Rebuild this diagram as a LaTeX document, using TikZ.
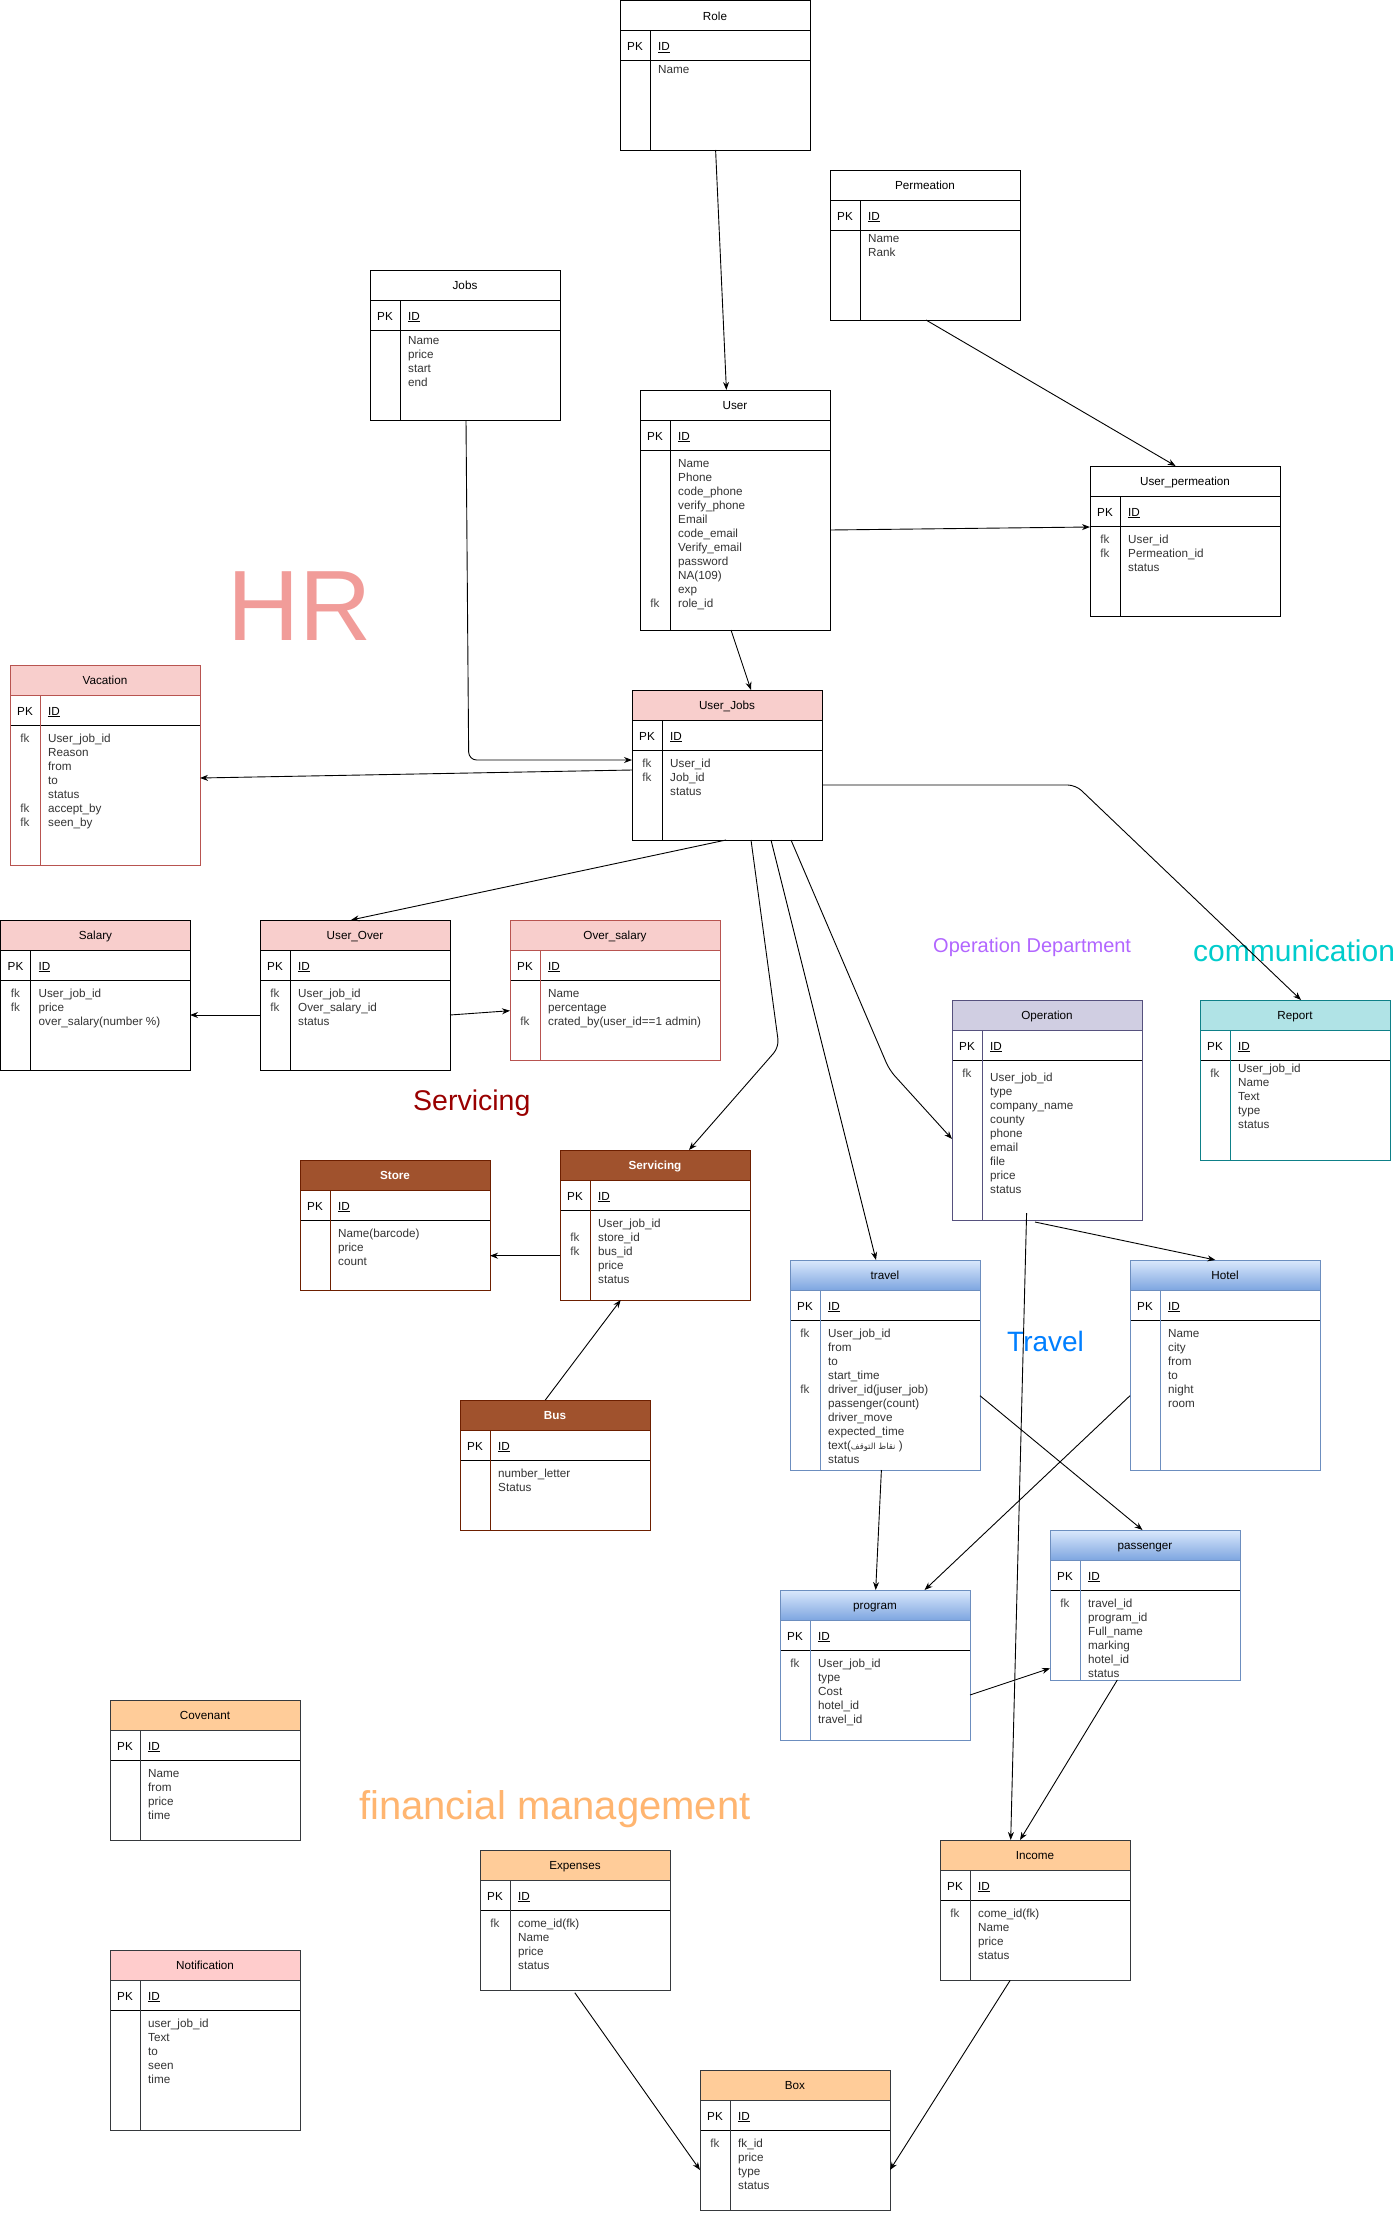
\documentclass[tikz,border=0pt]{standalone}
\usepackage{fontspec}
\setmainfont{Liberation Sans}
\newfontfamily\arabicfont[Script=Arabic]{DejaVu Sans}
\TeXXeTstate=1
\usetikzlibrary{calc,arrows.meta}
\definecolor{hdrPink}{HTML}{F8CECC}
\definecolor{strRed}{HTML}{B85450}
\definecolor{hdrLav}{HTML}{D0CEE2}
\definecolor{strLav}{HTML}{56517E}
\definecolor{hdrTeal}{HTML}{B0E3E6}
\definecolor{strTeal}{HTML}{0E8088}
\definecolor{hdrBrown}{HTML}{A0522D}
\definecolor{strBrown}{HTML}{6D1F00}
\definecolor{gTop}{HTML}{DAE8FC}
\definecolor{gBot}{HTML}{7EA6E0}
\definecolor{strBlue}{HTML}{6C8EBF}
\definecolor{hdrOrange}{HTML}{FFCC99}
\definecolor{strDark}{HTML}{36393D}
\definecolor{hdrRose}{HTML}{FFCCCC}
\definecolor{hrCol}{HTML}{F19C99}
\definecolor{opCol}{HTML}{B266FF}
\definecolor{comCol}{HTML}{00CCCC}
\definecolor{servCol}{HTML}{990000}
\definecolor{travCol}{HTML}{007FFF}
\definecolor{finCol}{HTML}{FFB570}
\definecolor{fkCol}{HTML}{444444}
\definecolor{bodyCol}{HTML}{333333}
\newcommand\ertrows[1]{\begin{tabular}{@{}l@{}}#1\end{tabular}}
\newcommand\erfkcol[1]{\begin{tabular}{@{}c@{}}#1\end{tabular}}
\tikzset{
  tabline/.style={line width=1pt},
  titlefont/.style={inner sep=0pt, font=\fontsize{11.7}{14}\selectfont},
  pkfont/.style={inner sep=0pt, font=\fontsize{11.7}{14}\selectfont},
  bodyfont/.style={inner sep=0pt, text=bodyCol, font=\fontsize{11.7}{14}\selectfont},
  fkfont/.style={inner sep=0pt, text=fkCol, font=\fontsize{11.7}{14}\selectfont},
  conn/.style={draw, line width=0.9pt, rounded corners=8pt, -{Stealth[length=8pt,width=6pt]}},
  biglabel/.style={inner sep=0pt, anchor=base west}
}
% #1 name, #2 x, #3 y, #4 w, #5 h, #6 stroke, #7 header fill options, #8 title
\newcommand\ertab[8]{%
  \fill[white] (#2,#3) rectangle ++(#4,#5);
  \path[#7] (#2,#3) rectangle ++(#4,30);
  \draw[tabline,black] (#2,#3+60) -- ++(#4,0);
  \draw[tabline,#6] (#2,#3+30) -- ++(#4,0);
  \draw[tabline,#6] (#2+30,#3+30) -- (#2+30,#3+#5);
  \node[draw=#6, tabline, inner sep=0pt, outer sep=0pt, minimum width=#4pt, minimum height=#5pt, anchor=north west] (#1) at (#2,#3) {};
  \node[titlefont, anchor=base] at (#2+#4/2,#3+19.8) {#8};
  \node[pkfont, anchor=base] at (#2+15,#3+50) {PK};
  \node[pkfont, anchor=base west] at (#2+38,#3+50) {\underline{ID}};
}
% #1 name, #2 text top offset, #3 fk top offset, #4 fk column, #5 rows
\newcommand\erbody[5]{%
  \node[bodyfont, anchor=north west] at ($(#1.north west)+(38,60+#2)$) {\ertrows{#5}};
  \node[fkfont, anchor=north] at ($(#1.north west)+(15,60+#3)$) {\erfkcol{#4}};
}
\begin{document}
\begin{tikzpicture}[x=1pt,y=-1pt]
\useasboundingbox (0,0) rectangle (1397,2214);
\fill[white] (0,0) rectangle (1397,2214);

% ---------- big labels ----------
\node[biglabel, text=hrCol, font=\fontsize{100}{110}\selectfont] (hrlab) at (227,640) {HR};
\node[biglabel, text=opCol, font=\fontsize{20}{24}\selectfont] (oplab) at (933,952.7) {Operation Department};
\node[biglabel, text=comCol, font=\fontsize{30}{36}\selectfont] (comlab) at (1193,961) {communication};
\node[biglabel, text=servCol, font=\fontsize{28.5}{34}\selectfont] (servlab) at (413,1110.7) {Servicing};
\node[biglabel, text=travCol, font=\fontsize{28}{34}\selectfont] (travlab) at (1007,1351) {Travel};
\node[biglabel, text=finCol, font=\fontsize{40}{48}\selectfont] (finlab) at (359,1819.3) {financial management};

% ---------- tables ----------
\ertab{role}{620}{0.5}{190}{150}{black}{fill=white}{Role}
\erbody{role}{2.5}{2.5}{}{Name}

\ertab{perm}{830}{170}{190}{150}{black}{fill=white}{Permeation}
\erbody{perm}{2.8}{2.8}{}{Name\\Rank}

\ertab{jobs}{370}{270}{190}{150}{black}{fill=white}{Jobs}
\erbody{jobs}{4.2}{4.2}{}{Name\\price\\start\\end}

\ertab{user}{640}{390}{190}{240}{black}{fill=white}{User}
\erbody{user}{7.5}{7.5}{\\ \\ \\ \\ \\ \\ \\ \\ \\ \\ fk}{Name\\Phone\\code\_phone\\verify\_phone\\Email\\code\_email\\Verify\_email\\password\\NA(109)\\exp\\role\_id}

\ertab{uperm}{1090}{466}{190}{150}{black}{fill=white}{User\_permeation}
\erbody{uperm}{7.8}{7.8}{fk\\ fk}{User\_id\\Permeation\_id\\status}

\ertab{vac}{10}{665}{190}{200}{strRed}{fill=hdrPink}{Vacation}
\erbody{vac}{7.5}{7.5}{fk\\ \\ \\ \\ \\ fk\\ fk}{User\_job\_id\\Reason\\from\\to\\status\\accept\_by\\seen\_by}

\ertab{uj}{632}{690}{190}{150}{black}{fill=hdrPink}{User\_Jobs}
\erbody{uj}{7.5}{7.5}{fk\\ fk}{User\_id\\Job\_id\\status}

\ertab{salary}{0.5}{920}{190}{150}{black}{fill=hdrPink}{Salary}
\erbody{salary}{7.5}{7.5}{fk\\ fk}{User\_job\_id\\price\\over\_salary(number \%)}

\ertab{uover}{260}{920}{190}{150}{black}{fill=hdrPink}{User\_Over}
\erbody{uover}{7.5}{7.5}{fk\\ fk}{User\_job\_id\\Over\_salary\_id\\status}

\ertab{osal}{510}{920}{210}{140}{strRed}{fill=hdrPink}{Over\_salary}
\erbody{osal}{7.5}{7.5}{\\ \\ fk}{Name\\percentage\\crated\_by(user\_id==1 admin)}

\ertab{oper}{952}{1000}{190}{220}{strLav}{fill=hdrLav}{Operation}
\erbody{oper}{11.5}{7.8}{fk}{User\_job\_id\\type\\company\_name\\county\\phone\\email\\file\\price\\status}

\ertab{report}{1200}{1000}{190}{160}{strTeal}{fill=hdrTeal}{Report}
\erbody{report}{2.8}{7.8}{fk}{User\_job\_id\\Name\\Text\\type\\status}

\ertab{store}{300}{1160}{190}{130}{strBrown}{fill=hdrBrown}{\textbf{\textcolor{white}{Store}}}
\erbody{store}{7.5}{7.5}{}{Name(barcode)\\price\\count}

\ertab{serv}{560}{1150}{190}{150}{strBrown}{fill=hdrBrown}{\textbf{\textcolor{white}{Servicing}}}
\erbody{serv}{7.5}{7.5}{\\ fk\\ fk}{User\_job\_id\\store\_id\\bus\_id\\price\\status}

\ertab{bus}{460}{1400}{190}{130}{strBrown}{fill=hdrBrown}{\textbf{\textcolor{white}{Bus}}}
\erbody{bus}{7.5}{7.5}{}{number\_letter\\Status}

\ertab{travel}{790}{1260}{190}{210}{strBlue}{top color=gTop, bottom color=gBot}{travel}
\erbody{travel}{7.5}{7.5}{fk\\ \\ \\ \\ fk}{User\_job\_id\\from\\to\\start\_time\\driver\_id(juser\_job)\\passenger(count)\\driver\_move\\expected\_time\\text({\fontsize{8.5}{14}\arabicfont\beginR نقاط التوقف\endR}\ )\\status}

\ertab{hotel}{1130}{1260}{190}{210}{strBlue}{top color=gTop, bottom color=gBot}{Hotel}
\erbody{hotel}{7.5}{7.5}{}{Name\\city\\from\\to\\night\\room}

\ertab{pass}{1050}{1530}{190}{150}{strBlue}{top color=gTop, bottom color=gBot}{passenger}
\erbody{pass}{7.5}{7.5}{fk}{travel\_id\\program\_id\\Full\_name\\marking\\hotel\_id\\status}

\ertab{prog}{780}{1590}{190}{150}{strBlue}{top color=gTop, bottom color=gBot}{program}
\erbody{prog}{7.5}{7.5}{fk}{User\_job\_id\\type\\Cost\\hotel\_id\\travel\_id}

\ertab{cov}{110}{1700}{190}{140}{strDark}{fill=hdrOrange}{Covenant}
\erbody{cov}{7.5}{7.5}{}{Name\\from\\price\\time}

\ertab{notif}{110}{1950}{190}{180}{strDark}{fill=hdrRose}{Notification}
\erbody{notif}{7.5}{7.5}{}{user\_job\_id\\Text\\to\\seen\\time}

\ertab{exp}{480}{1850}{190}{140}{strDark}{fill=hdrOrange}{Expenses}
\erbody{exp}{7.5}{7.5}{fk}{come\_id(fk)\\Name\\price\\status}

\ertab{income}{940}{1840}{190}{140}{strDark}{fill=hdrOrange}{Income}
\erbody{income}{7.5}{7.5}{fk}{come\_id(fk)\\Name\\price\\status}

\ertab{box}{700}{2070}{190}{140}{strDark}{fill=hdrOrange}{Box}
\erbody{box}{7.5}{7.5}{fk}{fk\_id\\price\\type\\status}

% ---------- connectors ----------
\draw[conn] ($(role.north west)+(95.6,149.5)$) -- ($(user.north west)+(86.4,0)$);
\draw[conn] ($(perm.north west)+(96,150)$) -- ($(uperm.north west)+(85.6,0)$);
\draw[conn] ($(user.north west)+(190,140)$) -- ($(uperm.north west)+(0,61)$);
\draw[conn] ($(jobs.north west)+(96,150)$) -- ($(uj.north west)+(-163.3,70)$) -- ($(uj.north west)+(0,70)$);
\draw[conn] ($(user.north west)+(91,240)$) -- ($(uj.north west)+(119,0)$);
\draw[conn] ($(uj.north west)+(0,80)$) -- ($(vac.north west)+(190,113)$);
\draw[conn] ($(uj.north west)+(94,150)$) -- ($(uover.north west)+(91,0)$);
\draw[conn] ($(uover.north west)+(0,95)$) -- ($(salary.north west)+(189.5,95)$);
\draw[conn] ($(uover.north west)+(190,95)$) -- ($(osal.north west)+(0,90.7)$);
\draw[conn] ($(uj.north west)+(119,150)$) -- ($(serv.north west)+(219,-103)$) -- ($(serv.north west)+(129,0)$);
\draw[conn] ($(uj.north west)+(139,150)$) -- ($(travel.north west)+(86,0)$);
\draw[conn] ($(uj.north west)+(159,150)$) -- ($(oper.north west)+(-62.6,70)$) -- ($(oper.north west)+(0,139)$);
\draw[conn] ($(uj.north west)+(190,95)$) -- ($(report.north west)+(-124.3,-215)$) -- ($(report.north west)+(101,0)$);
\draw[conn] ($(serv.north west)+(0,105.7)$) -- ($(store.north west)+(190,95.7)$);
\draw[conn] ($(bus.north west)+(85.3,0)$) -- ($(serv.north west)+(60.7,150)$);
\draw[conn] ($(oper.north west)+(83,222)$) -- ($(hotel.north west)+(85.4,0)$);
\draw[conn] ($(oper.north west)+(74.6,213)$) -- ($(income.north west)+(70.7,0)$);
\draw[conn] ($(travel.north west)+(91.4,210)$) -- ($(prog.north west)+(95.7,0)$);
\draw[conn] ($(hotel.north west)+(0,135.7)$) -- ($(prog.north west)+(144.6,0)$);
\draw[conn] ($(travel.north west)+(190,135.7)$) -- ($(pass.north west)+(92.5,0)$);
\draw[conn] ($(prog.north west)+(190,105)$) -- ($(pass.north west)+(0,138.3)$);
\draw[conn] ($(pass.north west)+(67.3,150)$) -- ($(income.north west)+(80,0)$);
\draw[conn] ($(exp.north west)+(94.8,142.7)$) -- ($(box.north west)+(0,100)$);
\draw[conn] ($(income.north west)+(70.2,140.3)$) -- ($(box.north west)+(190,100)$);
\end{tikzpicture}
\end{document}
